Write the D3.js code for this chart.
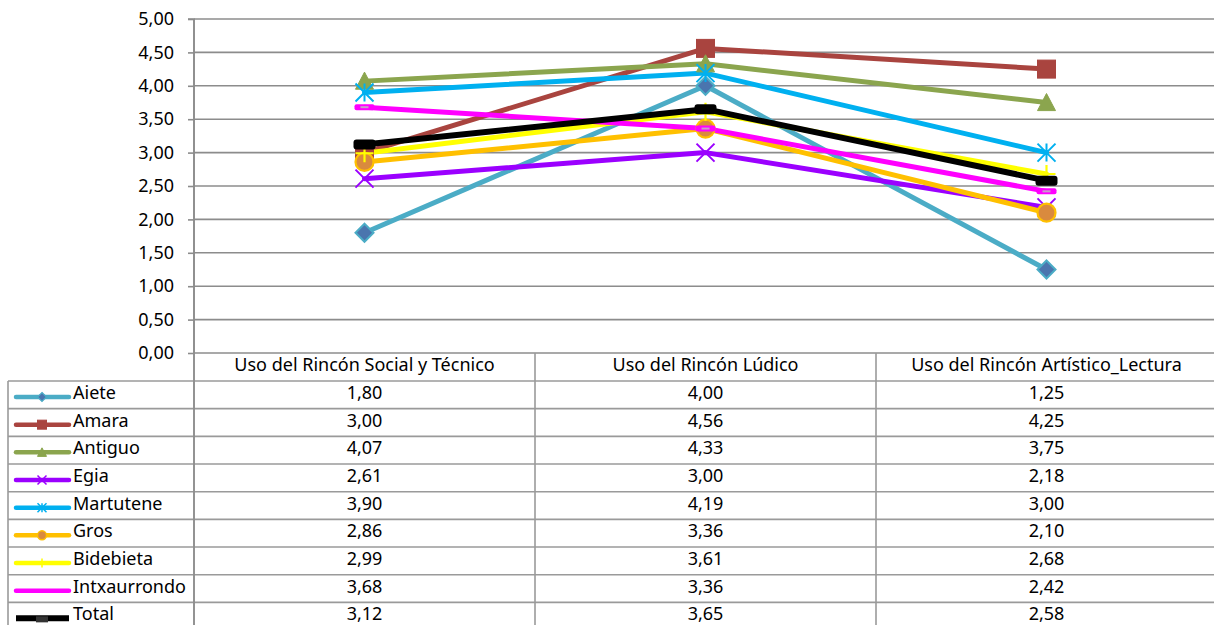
<!DOCTYPE html>
<html>
<head>
<meta charset="utf-8">
<script src="https://cdn.jsdelivr.net/npm/d3@7/dist/d3.min.js"></script>
<style>
  html, body { margin: 0; padding: 0; background: #fff; }
  svg { display: block; font-family: "Noto Sans", sans-serif; }
</style>
</head>
<body>
<svg id="chart" width="1214" height="625"></svg>
<script>
// Categories (columns of the data table / x positions)
const categories = [
  "Uso del Rincón Social y Técnico",
  "Uso del Rincón Lúdico",
  "Uso del Rincón Artístico_Lectura"
];

// Series names, in drawing / table order
const seriesNames = ["Aiete", "Amara", "Antiguo", "Egia", "Martutene", "Gros", "Bidebieta", "Intxaurrondo", "Total"];

// Values per series, one per category
const aiete        = [1.80, 4.00, 1.25];
const amara        = [3.00, 4.56, 4.25];
const antiguo      = [4.07, 4.33, 3.75];
const egia         = [2.61, 3.00, 2.18];
const martutene    = [3.90, 4.19, 3.00];
const gros         = [2.86, 3.36, 2.10];
const bidebieta    = [2.99, 3.61, 2.68];
const intxaurrondo = [3.68, 3.36, 2.42];
const total        = [3.12, 3.65, 2.58];

// Y axis ticks
const yTicks = [0, 0.5, 1, 1.5, 2, 2.5, 3, 3.5, 4, 4.5, 5];

const seriesValues = [aiete, amara, antiguo, egia, martutene, gros, bidebieta, intxaurrondo, total];

// Visual style per series
const styles = {
  Aiete:        { line: "#4BACC6", marker: "diamond",  fill: "#4A75AE", stroke: "#4BACC6" },
  Amara:        { line: "#A9443F", marker: "square",   fill: "#A9443F", stroke: "#A9443F" },
  Antiguo:      { line: "#8BA54E", marker: "triangle", fill: "#8BA54E", stroke: "#8BA54E" },
  Egia:         { line: "#9B00FF", marker: "x",        fill: "none",    stroke: "#9B00FF" },
  Martutene:    { line: "#00B0F0", marker: "star",     fill: "none",    stroke: "#00B0F0" },
  Gros:         { line: "#FFC000", marker: "circle",   fill: "#D98A3E", stroke: "#FFC000" },
  Bidebieta:    { line: "#FFFF00", marker: "plus",     fill: "none",    stroke: "#FFFF00" },
  Intxaurrondo: { line: "#FF00FF", marker: "dash",     fill: "#C8A0C8", stroke: "#FF00FF" },
  Total:        { line: "#000000", marker: "bar",      fill: "#000000", stroke: "#000000" }
};

const fmt = v => d3.format(".2f")(v).replace(".", ",");
const fontSize = 18;

const svg = d3.select("#chart");

// Layout
const plotLeft = 194, plotTop = 19, plotBottom = 353, plotRight = 1217;
const tableLeft = 8;
const headerBottom = 381;
const rowH = 27.67;

const x = d3.scaleBand().domain(categories).range([plotLeft, plotRight]);
const y = d3.scaleLinear().domain([0, 5]).range([plotBottom, plotTop]);
const cx = c => x(c) + x.bandwidth() / 2;
const gridColor = "#8c8c8c";

// Horizontal gridlines
svg.append("g")
  .selectAll("line")
  .data(yTicks.filter(t => t > 0))
  .join("line")
  .attr("x1", plotLeft).attr("x2", plotRight)
  .attr("y1", d => y(d)).attr("y2", d => y(d))
  .attr("stroke", gridColor).attr("stroke-width", 1.6);

// Y axis
const yAxis = d3.axisLeft(y).tickValues(yTicks).tickFormat(fmt).tickSize(6).tickPadding(14);
const yg = svg.append("g").attr("transform", `translate(${plotLeft},0)`).call(yAxis);
yg.select(".domain").attr("stroke", gridColor).attr("stroke-width", 1.6).attr("d", `M-6,${plotTop}H0V${plotBottom}`);
yg.selectAll(".tick line").attr("stroke", gridColor).attr("stroke-width", 1.6);
yg.selectAll(".tick text").attr("font-size", fontSize).attr("fill", "#000").attr("font-family", "'Noto Sans', sans-serif");

// Data table grid
const tg = svg.append("g").attr("stroke", "#9a9a9a").attr("stroke-width", 1.6);
// x axis line (top of header row)
tg.append("line").attr("x1", plotLeft).attr("x2", plotRight).attr("y1", plotBottom).attr("y2", plotBottom).attr("stroke", gridColor);
// row lines
tg.selectAll("line.row")
  .data(d3.range(seriesNames.length + 1))
  .join("line").attr("class", "row")
  .attr("x1", tableLeft).attr("x2", plotRight)
  .attr("y1", i => headerBottom + i * rowH).attr("y2", i => headerBottom + i * rowH);
// left border of the legend column
tg.append("line").attr("x1", tableLeft).attr("x2", tableLeft).attr("y1", headerBottom).attr("y2", 640);
// column separators
tg.selectAll("line.col")
  .data(categories)
  .join("line").attr("class", "col")
  .attr("x1", d => x(d)).attr("x2", d => x(d))
  .attr("y1", plotBottom).attr("y2", 640);
tg.append("line").attr("x1", plotLeft).attr("x2", plotLeft).attr("y1", plotTop).attr("y2", 640).attr("stroke", gridColor);

// Header labels
svg.append("g")
  .selectAll("text")
  .data(categories)
  .join("text")
  .attr("x", d => cx(d))
  .attr("y", plotBottom + 18)
  .attr("text-anchor", "middle")
  .attr("font-size", fontSize)
  .text(d => d);

// Marker drawing
function drawMarker(g, kind, st, s) {
  const h = s / 2;
  switch (kind) {
    case "diamond":
      g.append("path").attr("d", `M0,${-h}L${h},0L0,${h}L${-h},0Z`)
        .attr("fill", st.fill).attr("stroke", st.stroke).attr("stroke-width", s > 10 ? 2 : 1.2);
      break;
    case "square":
      g.append("rect").attr("x", -h).attr("y", -h).attr("width", s).attr("height", s)
        .attr("fill", st.fill).attr("stroke", st.stroke).attr("stroke-width", 1);
      break;
    case "triangle":
      g.append("path").attr("d", `M0,${-h}L${h},${h * 0.9}L${-h},${h * 0.9}Z`)
        .attr("fill", st.fill).attr("stroke", st.stroke).attr("stroke-width", 1);
      break;
    case "x":
      g.append("path").attr("d", `M${-h},${-h}L${h},${h}M${-h},${h}L${h},${-h}`)
        .attr("stroke", st.stroke).attr("stroke-width", s > 10 ? 2 : 1.5);
      break;
    case "star":
      g.append("path").attr("d", `M${-h},${-h}L${h},${h}M${-h},${h}L${h},${-h}M0,${-h}L0,${h}`)
        .attr("stroke", st.stroke).attr("stroke-width", s > 10 ? 2 : 1.5);
      break;
    case "circle":
      g.append("circle").attr("r", h)
        .attr("fill", st.fill).attr("stroke", st.stroke).attr("stroke-width", s > 10 ? 2.2 : 1.5);
      break;
    case "plus":
      g.append("path").attr("d", `M${-h},0L${h},0M0,${-h}L0,${h}`)
        .attr("stroke", st.stroke).attr("stroke-width", s > 10 ? 2.2 : 1.5);
      break;
    case "dash":
      g.append("rect").attr("x", -h).attr("y", -3).attr("width", s).attr("height", 6).attr("rx", 2)
        .attr("fill", st.stroke);
      g.append("rect").attr("x", -h / 2.5).attr("y", -1).attr("width", s / 2.5).attr("height", 2)
        .attr("fill", st.fill);
      break;
    case "bar":
      g.append("rect").attr("x", -h).attr("y", -5).attr("width", s).attr("height", 10).attr("rx", 3)
        .attr("fill", st.fill);
      break;
  }
}

// Series lines first, then markers on top of all lines
const line = d3.line().x((d, i) => cx(categories[i])).y(d => y(d));
const linesG = svg.append("g");
const markersG = svg.append("g");
seriesNames.forEach((name, si) => {
  const st = styles[name];
  const vals = seriesValues[si];
  linesG.append("path").datum(vals)
    .attr("d", line)
    .attr("fill", "none")
    .attr("stroke", st.line)
    .attr("stroke-width", name === "Total" ? 6 : 5)
    .attr("stroke-linejoin", "round")
    .attr("stroke-linecap", "round");
});
seriesNames.forEach((name, si) => {
  const st = styles[name];
  seriesValues[si].forEach((v, i) => {
    const mg = markersG.append("g").attr("transform", `translate(${cx(categories[i])},${y(v)})`);
    const size = name === "Total" ? 22 : name === "Intxaurrondo" ? 20 : 18;
    drawMarker(mg, st.marker, st, size);
  });
});

// Table rows: legend keys, names and values
seriesNames.forEach((name, si) => {
  const st = styles[name];
  const top = headerBottom + si * rowH;
  const row = svg.append("g");
  const ky = top + 16;
  row.append("line").attr("x1", 16).attr("x2", 69).attr("y1", ky).attr("y2", ky)
    .attr("stroke", st.line).attr("stroke-width", name === "Total" ? 6 : 4.5)
    .attr("stroke-linecap", name === "Total" ? "butt" : "round");
  const mg = row.append("g").attr("transform", `translate(42,${ky})`);
  if (name === "Total") {
    mg.append("rect").attr("x", -6).attr("y", -2).attr("width", 12).attr("height", 6).attr("fill", "#333");
  } else if (name !== "Intxaurrondo") {
    drawMarker(mg, st.marker, st, 9);
  }
  row.append("text").attr("x", 73).attr("y", top + 18).attr("font-size", fontSize).text(name);
  seriesValues[si].forEach((v, i) => {
    row.append("text")
      .attr("x", cx(categories[i]))
      .attr("y", top + 18)
      .attr("text-anchor", "middle")
      .attr("font-size", fontSize)
      .text(fmt(v));
  });
});
</script>
</body>
</html>
